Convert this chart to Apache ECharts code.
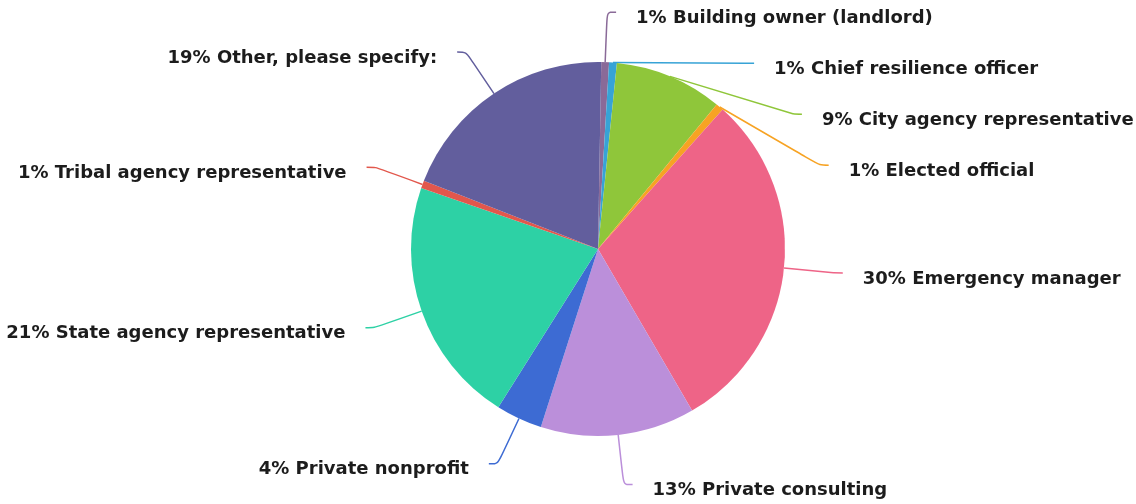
<!DOCTYPE html>
<html>
<head>
<meta charset="utf-8">
<script src="https://cdn.jsdelivr.net/npm/echarts@6/dist/echarts.min.js"></script>
<style>
html,body{margin:0;padding:0;background:#fff;overflow:hidden;width:1136px;height:504px;position:relative;}
#chart{position:absolute;left:-100px;top:-50px;width:1336px;height:604px;}
</style>
</head>
<body>
<div id="chart"></div>
<script>
// Estimated respondent counts (labels show rounded percentages)
const categories = [
  'Building owner (landlord)',
  'Chief resilience officer',
  'City agency representative',
  'Elected official',
  'Emergency manager',
  'Private consulting',
  'Private nonprofit',
  'State agency representative',
  'Tribal agency representative',
  'Other, please specify:'
];
const counts = [1, 1, 14, 1, 45, 20, 6, 32, 1, 29];
const colors = ['#8a6a98', '#37a3d6', '#8fc63a', '#f7a323', '#ee6487', '#bb8fda', '#3d6bd3', '#2dd1a5', '#e2574c', '#625e9d'];

const chart = echarts.init(document.getElementById('chart'));
chart.setOption({
  animation: false,
  color: colors,
  series: [{
    type: 'pie',
    center: [698, 299],
    radius: 187,
    startAngle: 89,
    clockwise: true,
    avoidLabelOverlap: true,
    data: categories.map((c, i) => ({ name: c, value: counts[i] })),
    label: {
      show: true,
      formatter: p => Math.round(p.percent) + '% ' + p.name,
      fontFamily: 'DejaVu Sans',
      fontWeight: 'bold',
      fontSize: 18,
      color: '#1c1c1c',
      lineHeight: 21,
      padding: [14, 20, 14, 20],
      offset: [0, 6],
      distanceToLabelLine: 0,
      bleedMargin: 0
    },
    labelLine: {
      show: true,
      length: 50,
      length2: 9,
      smooth: true,
      lineStyle: { width: 1.5 }
    },
    itemStyle: { borderWidth: 0 },
    emphasis: { disabled: true }
  }]
});
</script>
</body>
</html>
